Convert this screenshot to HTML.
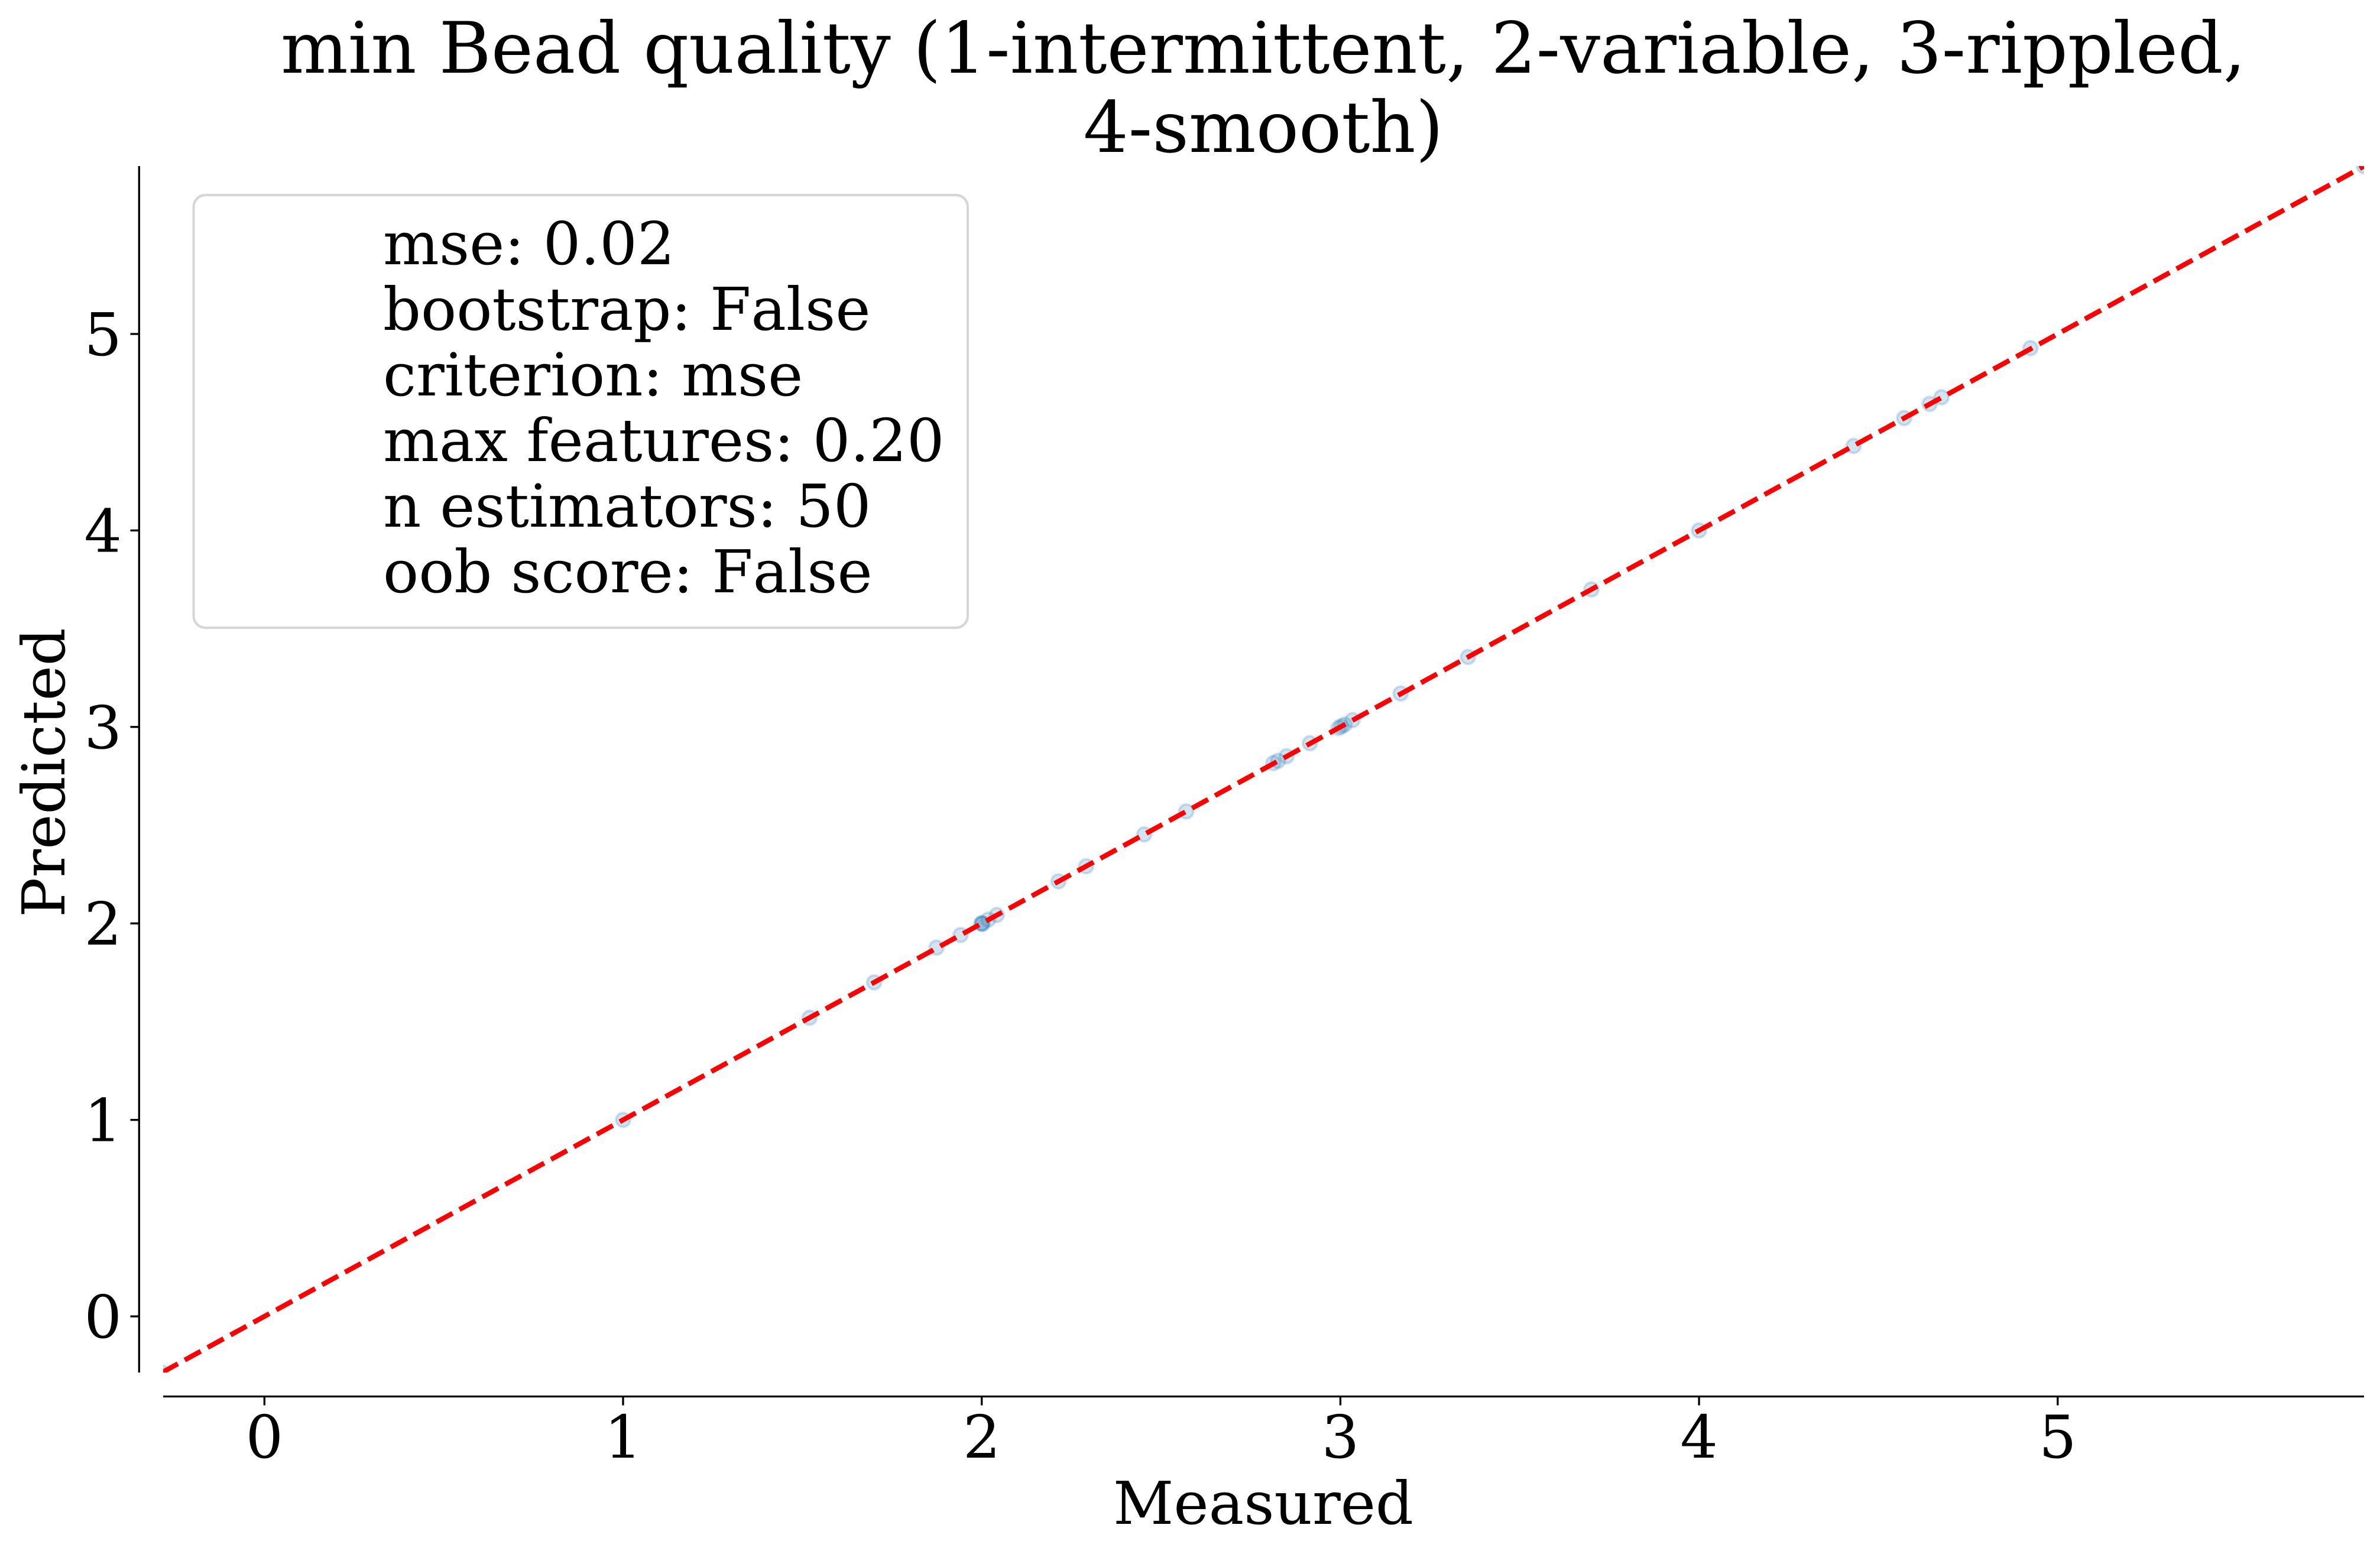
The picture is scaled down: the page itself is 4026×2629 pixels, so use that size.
<!DOCTYPE html>
<html lang="en">
<head>
<meta charset="utf-8">
<title>min Bead quality</title>
<style>
html,body{margin:0;padding:0;background:#fff;width:4026px;height:2629px;overflow:hidden}
svg{display:block}
text{font-family:"DejaVu Serif","Liberation Serif",serif;fill:#000;text-rendering:geometricPrecision;font-kerning:none}
</style>
</head>
<body>
<svg id="chart" xmlns="http://www.w3.org/2000/svg" width="4026" height="2629" viewBox="0 0 4026 2629">
<defs><clipPath id="plot-clip"><rect x="276" y="281" width="3723" height="2041"/></clipPath></defs>
<rect x="0" y="0" width="4026" height="2629" fill="#fff"/>
<g id="marks" clip-path="url(#plot-clip)"></g>
<g id="axes"></g>
<text x="2137" y="123" text-anchor="middle" font-size="120">min Bead quality (1-intermittent, 2-variable, 3-rippled,</text>
<text x="2137" y="257" text-anchor="middle" font-size="120">4-smooth)</text>
<text x="2137" y="2578" text-anchor="middle" font-size="100">Measured</text>
<text transform="translate(109 1307) rotate(-90)" text-anchor="middle" font-size="100">Predicted</text>
<g>
<rect x="327.5" y="330" width="1309.5" height="732" rx="20" ry="20" fill="#fff" fill-opacity="0.8" stroke="#d6d6d6" stroke-width="4.17"/>
<text x="648" y="447" font-size="100">mse: 0.02</text>
<text x="648" y="558" font-size="100">bootstrap: False</text>
<text x="648" y="669" font-size="100">criterion: mse</text>
<text x="648" y="780" font-size="100">max features: 0.20</text>
<text x="648" y="891" font-size="100">n estimators: 50</text>
<text x="648" y="1002" font-size="100">oob score: False</text>
</g>
</svg>
<script>
const measured = [-0.286, 1.00, 1.52, 1.70, 1.874, 1.941, 2.00, 2.00, 2.002, 2.018, 2.042, 2.214, 2.291, 2.453, 2.57, 2.813, 2.826, 2.85, 2.915, 2.995, 3.003, 3.012, 3.034, 3.168, 3.356, 3.70, 4.00, 4.431, 4.572, 4.643, 4.676, 4.924, 5.854];
const predicted = [-0.286, 1.00, 1.52, 1.70, 1.877, 1.941, 2.00, 2.00, 1.998, 2.019, 2.043, 2.214, 2.291, 2.453, 2.57, 2.816, 2.827, 2.851, 2.917, 2.995, 3.003, 3.012, 3.035, 3.170, 3.356, 3.70, 4.00, 4.430, 4.572, 4.644, 4.678, 4.928, 5.854];
const xTickValues = [0, 1, 2, 3, 4, 5];
const yTickValues = [0, 1, 2, 3, 4, 5];
const identityLine = [-0.286, 5.854];

const NS = 'http://www.w3.org/2000/svg';
const xScale = v => 447.3 + v * 606.7;
const yScale = v => 2227 - v * 332.4;
const marks = document.getElementById('marks');
const axes = document.getElementById('axes');

function make(tag, parent, attrs) {
  const el = document.createElementNS(NS, tag);
  for (const k in attrs) el.setAttribute(k, attrs[k]);
  parent.appendChild(el);
  return el;
}

measured.forEach((m, i) => {
  const pt = make('circle', marks, {cx: xScale(m), cy: yScale(predicted[i]), r: 12, fill: '#1f77b4', 'fill-opacity': 0.2, stroke: '#1f77b4', 'stroke-opacity': 0.2, 'stroke-width': 4.17});
  
  
});

const fit = make('line', marks, {x1: xScale(identityLine[0]), y1: yScale(identityLine[0]), x2: xScale(identityLine[1]), y2: yScale(identityLine[1]), stroke: '#ff0000', 'stroke-width': 8.33, 'stroke-dasharray': '30.83 13.33'});



const ySpine = make('line', axes, {x1: 235.3, y1: 281, x2: 235.3, y2: 2322, stroke: '#000', 'stroke-width': 3.33});



const xSpine = make('line', axes, {x1: 276, y1: 2362.5, x2: 3999, y2: 2362.5, stroke: '#000', 'stroke-width': 3.33});



xTickValues.forEach(v => {
  const tick = make('line', axes, {x1: xScale(v), y1: 2362.5, x2: xScale(v), y2: 2377.5, stroke: '#000', 'stroke-width': 3.33});
  
  
  const label = make('text', axes, {x: xScale(v), y: 2466, 'text-anchor': 'middle', 'font-size': 100});
  
  
  label.textContent = String(v);
});

yTickValues.forEach(v => {
  const tick = make('line', axes, {x1: 220.5, y1: yScale(v), x2: 235.3, y2: yScale(v), stroke: '#000', 'stroke-width': 3.33});
  
  
  const label = make('text', axes, {x: 206, y: yScale(v) + 36, 'text-anchor': 'end', 'font-size': 100});
  
  
  label.textContent = String(v);
});
</script>
</body>
</html>
